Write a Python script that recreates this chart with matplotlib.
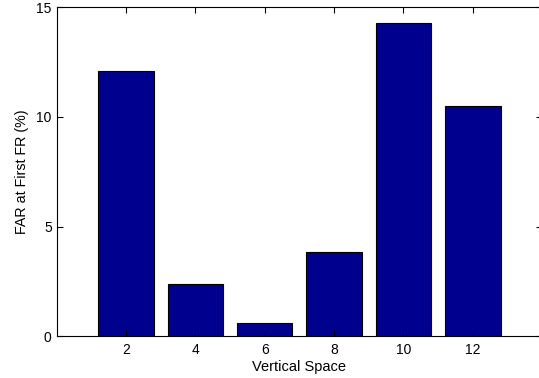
import matplotlib
matplotlib.use("Agg")
import matplotlib.pyplot as plt

plt.rcParams['font.family'] = ['Liberation Sans', 'DejaVu Sans']

spaces = [2, 4, 6, 8, 10, 12]
far_values = [12.1, 2.37, 0.59, 3.85, 14.3, 10.48]
xticks = [2, 4, 6, 8, 10, 12]
yticks = [0, 5, 10, 15]

fig = plt.figure(figsize=(5.39, 3.78), dpi=100)
ax = fig.add_axes([0.105, 0.110, 0.901, 0.871])
ax.bar(spaces, far_values, width=1.6, color='#00008F', edgecolor='black', linewidth=0.8)
ax.set_xlim(0, 14)
ax.set_ylim(0, 15)
ax.set_xticks(xticks)
ax.set_yticks(yticks)
ax.tick_params(direction='in', top=True, right=True, length=4, width=0.8, labelsize=10)
ax.tick_params(axis='x', pad=5)
ax.tick_params(axis='y', pad=3.5)
ax.spines['right'].set_visible(False)
for s in ax.spines.values():
    s.set_linewidth(0.8)
ax.set_xlabel('Vertical Space', fontsize=10.5, labelpad=2)
ax.set_ylabel('FAR at First FR (%)', fontsize=10.3, labelpad=5)
fig.savefig('out.png', dpi=100)
